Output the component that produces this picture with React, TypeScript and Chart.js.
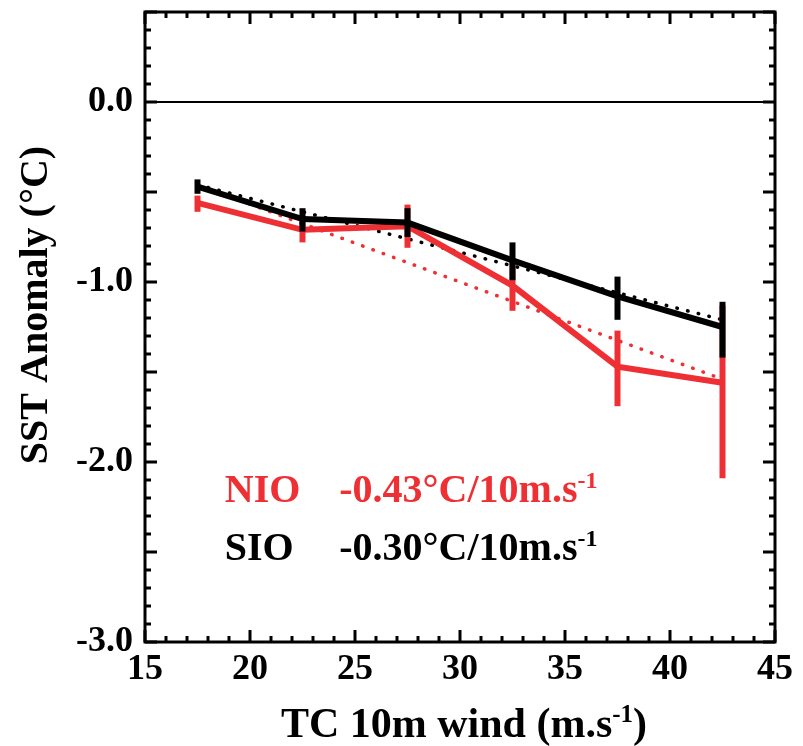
import React, { useEffect, useRef } from "react";
import { Chart, registerables } from "chart.js";

Chart.register(...registerables);

// ---- data ----
const windBins = [17.5, 22.5, 27.5, 32.5, 37.5, 42.5];
const nioMean = [-0.56, -0.71, -0.69, -1.02, -1.47, -1.56];
const nioLow = [-0.61, -0.78, -0.81, -1.16, -1.69, -2.09];
const nioHigh = [-0.52, -0.64, -0.57, -0.89, -1.27, -1.13];
const sioMean = [-0.47, -0.65, -0.67, -0.88, -1.08, -1.25];
const sioLow = [-0.51, -0.72, -0.75, -0.99, -1.21, -1.42];
const sioHigh = [-0.43, -0.59, -0.59, -0.78, -0.97, -1.11];
const fitX = [17.5, 42.5];
const nioFitY = [-0.46, -1.54];
const sioFitY = [-0.46, -1.21];
const xTickValues = [15, 20, 25, 30, 35, 40, 45];
const yTickValues = [0, -1, -2, -3];
const nioName = "NIO";
const sioName = "SIO";
const nioSlope = "-0.43°C/10m.s";
const sioSlope = "-0.30°C/10m.s";
const slopeSup = "-1";
const xTitleMain = "TC 10m wind (m.s";
const xTitleSup = "-1";
const xTitleEnd = ")";
const yTitle = "SST Anomaly (°C)";

const RED = "#ee3034";
const BLACK = "#000000";
const SERIF = '"Liberation Serif", "Times New Roman", serif';

function drawSupText(
  ctx: CanvasRenderingContext2D,
  parts: { t: string; sup?: boolean }[],
  x: number,
  y: number,
  size: number,
  align: "left" | "center"
) {
  const supSize = Math.round(size * 0.6);
  const widths = parts.map((p) => {
    ctx.font = `bold ${p.sup ? supSize : size}px ${SERIF}`;
    return ctx.measureText(p.t).width;
  });
  const total = widths.reduce((a, b) => a + b, 0);
  let cx = align === "center" ? x - total / 2 : x;
  ctx.textAlign = "left";
  ctx.textBaseline = "alphabetic";
  parts.forEach((p, i) => {
    ctx.font = `bold ${p.sup ? supSize : size}px ${SERIF}`;
    ctx.fillText(p.t, cx, p.sup ? y - size * 0.36 : y);
    cx += widths[i];
  });
}

const framePlugin = {
  id: "framePlugin",
  beforeDatasetsDraw(chart: any) {
    const { ctx, chartArea: a, scales } = chart;
    const y0 = scales.y.getPixelForValue(0);
    ctx.save();
    ctx.strokeStyle = BLACK;
    ctx.lineWidth = 2;
    ctx.beginPath();
    ctx.moveTo(a.left, y0);
    ctx.lineTo(a.right, y0);
    ctx.stroke();
    ctx.restore();
  },
  afterDatasetsDraw(chart: any) {
    const { ctx, chartArea: a, scales } = chart;
    const xs = scales.x;
    const ys = scales.y;
    ctx.save();
    ctx.strokeStyle = BLACK;
    ctx.lineWidth = 3;
    ctx.lineCap = "butt";
    // ticks
    ctx.beginPath();
    for (let v = 15; v <= 45; v += 1) {
      const px = xs.getPixelForValue(v);
      const len = v % 5 === 0 ? 12 : 6;
      ctx.moveTo(px, a.bottom);
      ctx.lineTo(px, a.bottom - len);
      ctx.moveTo(px, a.top);
      ctx.lineTo(px, a.top + len);
    }
    for (let k = -30; k <= 5; k += 1) {
      const v = k / 10;
      const py = ys.getPixelForValue(v);
      const len = k % 5 === 0 ? 12 : 6;
      ctx.moveTo(a.left, py);
      ctx.lineTo(a.left + len, py);
      ctx.moveTo(a.right, py);
      ctx.lineTo(a.right - len, py);
    }
    ctx.stroke();
    ctx.lineWidth = 3;
    ctx.strokeRect(a.left, a.top, a.right - a.left, a.bottom - a.top);

    // annotations
    const nx = xs.getPixelForValue(18.8);
    const sx = xs.getPixelForValue(24.25);
    const nyB = ys.getPixelForValue(-2.222);
    const syB = ys.getPixelForValue(-2.545);
    ctx.fillStyle = RED;
    drawSupText(ctx, [{ t: nioName }], nx, nyB, 40, "left");
    drawSupText(ctx, [{ t: nioSlope }, { t: slopeSup, sup: true }], sx, nyB, 40, "left");
    ctx.fillStyle = BLACK;
    drawSupText(ctx, [{ t: sioName }], nx, syB, 40, "left");
    drawSupText(ctx, [{ t: sioSlope }, { t: slopeSup, sup: true }], sx, syB, 40, "left");

    // axis titles
    drawSupText(
      ctx,
      [{ t: xTitleMain }, { t: xTitleSup, sup: true }, { t: xTitleEnd }],
      (a.left + a.right) / 2 + 4,
      737,
      42,
      "center"
    );
    ctx.save();
    ctx.translate(47, 305);
    ctx.rotate(-Math.PI / 2);
    drawSupText(ctx, [{ t: yTitle }], 0, 0, 40, "center");
    ctx.restore();
    ctx.restore();
  },
};

export default function App() {
  const ref = useRef<HTMLCanvasElement | null>(null);

  useEffect(() => {
    document.body.style.margin = "0";
    document.body.style.overflow = "hidden";
    const canvas = ref.current;
    if (!canvas) return;

    const pts = (ys: number[]) => windBins.map((x, i) => ({ x, y: ys[i] }));
    const bar = (x: number, lo: number, hi: number, color: string, order: number) => ({
      data: [
        { x, y: lo },
        { x, y: hi },
      ],
      borderColor: color,
      borderWidth: 6,
      borderCapStyle: "butt",
      pointRadius: 0,
      fill: false,
      order,
    });

    const datasets: any[] = [];
    windBins.forEach((x, i) => datasets.push(bar(x, sioLow[i], sioHigh[i], BLACK, 0)));
    datasets.push({
      label: "SIO",
      data: pts(sioMean),
      borderColor: BLACK,
      borderWidth: 6,
      pointRadius: 0,
      borderJoinStyle: "miter",
      fill: false,
      order: 1,
    });
    windBins.forEach((x, i) => datasets.push(bar(x, nioLow[i], nioHigh[i], RED, 2)));
    datasets.push({
      label: "NIO",
      data: pts(nioMean),
      borderColor: RED,
      borderWidth: 6,
      pointRadius: 0,
      borderJoinStyle: "miter",
      fill: false,
      order: 3,
    });
    datasets.push({
      label: "SIO fit",
      data: fitX.map((x, i) => ({ x, y: sioFitY[i] })),
      borderColor: BLACK,
      borderWidth: 3.5,
      borderDash: [0.5, 10.5],
      borderCapStyle: "round",
      pointRadius: 0,
      fill: false,
      order: 4,
    });
    datasets.push({
      label: "NIO fit",
      data: fitX.map((x, i) => ({ x, y: nioFitY[i] })),
      borderColor: RED,
      borderWidth: 3.5,
      borderDash: [0.5, 10.5],
      borderCapStyle: "round",
      pointRadius: 0,
      fill: false,
      order: 5,
    });

    const chart = new Chart(canvas, {
      type: "line",
      data: { datasets },
      options: {
        responsive: false,
        animation: false,
        events: [],
        layout: { padding: { left: 0, right: 28, top: 12, bottom: 0 } },
        plugins: { legend: { display: false }, tooltip: { enabled: false } },
        scales: {
          x: {
            type: "linear",
            min: 15,
            max: 45,
            grid: { display: false, drawTicks: false },
            border: { display: false },
            ticks: {
              color: BLACK,
              font: { family: SERIF, size: 36, weight: "bold" },
              padding: 6,
              maxRotation: 0,
              callback: (v: any) => String(v),
            },
            afterBuildTicks: (s: any) => {
              s.ticks = xTickValues.map((value) => ({ value }));
            },
            afterFit: (s: any) => {
              s.height = 104;
              s.paddingLeft = 0;
              s.paddingRight = 0;
            },
          },
          y: {
            type: "linear",
            min: -3,
            max: 0.5,
            grid: { display: false, drawTicks: false },
            border: { display: false },
            ticks: {
              color: BLACK,
              font: { family: SERIF, size: 36, weight: "bold" },
              padding: 12,
              callback: (v: any) => Number(v).toFixed(1),
            },
            afterBuildTicks: (s: any) => {
              s.ticks = yTickValues.map((value) => ({ value }));
            },
            afterFit: (s: any) => {
              s.width = 145;
              s.paddingTop = 0;
              s.paddingBottom = 0;
            },
          },
        },
      } as any,
      plugins: [framePlugin],
    });
    return () => chart.destroy();
  }, []);

  return (
    <canvas
      ref={ref}
      width={803}
      height={746}
      style={{ display: "block", width: 803, height: 746 }}
    />
  );
}
